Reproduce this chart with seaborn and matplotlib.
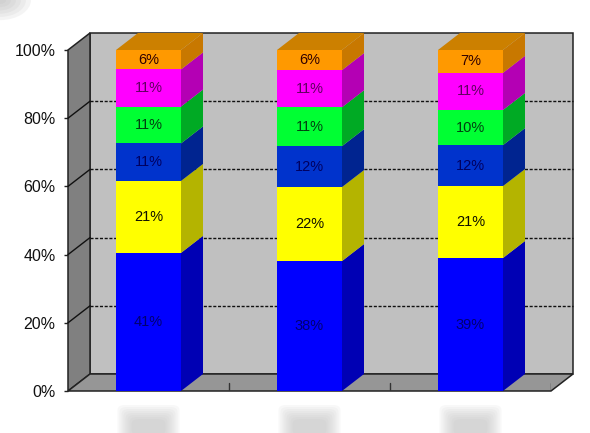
import numpy as np
import pandas as pd
import matplotlib
matplotlib.use("Agg")
import matplotlib.pyplot as plt
import seaborn as sns
from matplotlib.patches import Ellipse, FancyBboxPatch

# category names are blurred out in the source, so they only act as keys
categories = ["a", "b", "c"]
series_names = ["s1", "s2", "s3", "s4", "s5", "s6"]

s1 = [40.5, 38.1, 39.0]
s2 = [21.1, 21.7, 21.1]
s3 = [11.0, 12.0, 12.0]
s4 = [10.8, 11.4, 10.3]
s5 = [10.9, 10.9, 10.9]
s6 = [5.7, 5.9, 6.7]

s1_labels = ["41%", "38%", "39%"]
s2_labels = ["21%", "22%", "21%"]
s3_labels = ["11%", "12%", "12%"]
s4_labels = ["11%", "11%", "10%"]
s5_labels = ["11%", "11%", "11%"]
s6_labels = ["6%", "6%", "7%"]

front_colors = ["#0000ff", "#ffff00", "#0033cc", "#00ff33", "#ff00ff", "#ff9900"]
side_colors = ["#0000b4", "#b4b400", "#002490", "#00aa24", "#b400b4", "#c87800"]
text_colors = ["#000070", "#101000", "#000060", "#004010", "#600060", "#300000"]
top_color = "#cc8000"

values = [s1, s2, s3, s4, s5, s6]
labels = [s1_labels, s2_labels, s3_labels, s4_labels, s5_labels, s6_labels]
yticks = [0, 20, 40, 60, 80, 100]

W, H = 590, 433
left, right, bottom_px, top_px = 68, 551, 391, 50
bar_px = 65
depth_px = (22, 17)

sns.set_style("white")
plt.rcParams["font.family"] = ["Liberation Sans", "DejaVu Sans"]

fig = plt.figure(figsize=(W / 100, H / 100), dpi=100)
ax = fig.add_axes([left / W, 1 - bottom_px / H, (right - left) / W, (bottom_px - top_px) / H])
ax.set_facecolor("none")

# depth of the fake 3D box, in data units
cat_px = (right - left) / len(categories)
dx = depth_px[0] / cat_px
dy = depth_px[1] / ((bottom_px - top_px) / 100)
x0, x1 = -0.5, len(categories) - 0.5
bar_w = bar_px / cat_px

# back wall, left wall, floor
ax.fill([x0 + dx, x1 + dx, x1 + dx, x0 + dx], [dy, dy, 100 + dy, 100 + dy],
        color="#c0c0c0", ec="#222222", lw=1.1, zorder=1, clip_on=False)
ax.fill([x0, x0 + dx, x0 + dx, x0], [0, dy, 100 + dy, 100],
        color="#808080", ec="#222222", lw=1.1, zorder=1.1, clip_on=False)
ax.fill([x0, x0 + dx, x1 + dx, x1], [0, dy, dy, 0],
        color="#969696", ec="#222222", lw=1.1, zorder=1.1, clip_on=False)

# gridlines wrap from the left wall on to the back wall
for t in yticks[1:-1]:
    ax.plot([x0, x0 + dx], [t, t + dy], color="#111111", lw=1, zorder=1.5, clip_on=False)
    ax.plot([x0 + dx, x1 + dx], [t + dy, t + dy], color="#111111", lw=1, ls=(0, (2.2, 1.2)),
            zorder=1.5, clip_on=False)

# small ticks between the categories on the floor edge
for pos in np.arange(x0 + 1, x1 + 0.5):
    ax.plot([pos, pos], [0, 2.4], color="#333333", lw=1, zorder=1.6)

bottoms = np.zeros(len(categories))
for i, name in enumerate(series_names):
    vals = np.array(values[i])
    df = pd.DataFrame({"cat": categories, "val": vals})
    sns.barplot(data=df, x="cat", y="val", order=categories, color=front_colors[i], saturation=1,
                width=bar_w, bottom=bottoms, errorbar=None, ax=ax, zorder=3, linewidth=0, clip_on=False)
    for j in range(len(categories)):
        xr = j + bar_w / 2
        b, t = bottoms[j], bottoms[j] + vals[j]
        ax.fill([xr, xr + dx, xr + dx, xr], [b, b + dy, t + dy, t],
                color=side_colors[i], lw=0, zorder=2.9, clip_on=False)
        ax.text(j, b + vals[j] / 2, labels[i][j], ha="center", va="center", fontsize=10.5,
                color=text_colors[i], zorder=5)
    bottoms = bottoms + vals

# top of each column
for j in range(len(categories)):
    xl, xr = j - bar_w / 2, j + bar_w / 2
    t = bottoms[j]
    ax.fill([xl, xr, xr + dx, xl + dx], [t, t, t + dy, t + dy], color=top_color, lw=0, zorder=2.9,
            clip_on=False)

ax.set_xlim(x0, x1)
ax.set_ylim(0, 100)
ax.set_xlabel("")
ax.set_ylabel("")
ax.set_xticks([])
ax.set_yticks(yticks)
ax.set_yticklabels([f"{t}%" for t in yticks], fontsize=11.5, color="#111111")
ax.tick_params(axis="y", length=3, width=1, color="#222222", pad=6, left=True)
sns.despine(ax=ax, top=True, right=True, left=True, bottom=True)

# blurred-out category names under the columns, built up from faint layers
for j in range(len(categories)):
    cx = ax.transData.transform((j, 0))[0] / W
    for pad in range(0, 16, 2):
        w, h = (62 - 2 * pad) / W, (44 - 2 * pad) / H
        fig.patches.append(FancyBboxPatch((cx - w / 2, 1 - (405 + pad) / H - h), w, h,
                                          boxstyle="round,pad=0,rounding_size=0.012",
                                          transform=fig.transFigure, fc="#b8b8b8", ec="none",
                                          alpha=0.09, figure=fig))

# soft smudge in the top left corner
for r in range(6, 36, 5):
    fig.patches.append(Ellipse((0, 1), 2 * r / W, 1.3 * r / H, transform=fig.transFigure,
                               fc="#b0b0b0", ec="none", alpha=0.13, figure=fig))

fig.savefig("out.png", dpi=100)
